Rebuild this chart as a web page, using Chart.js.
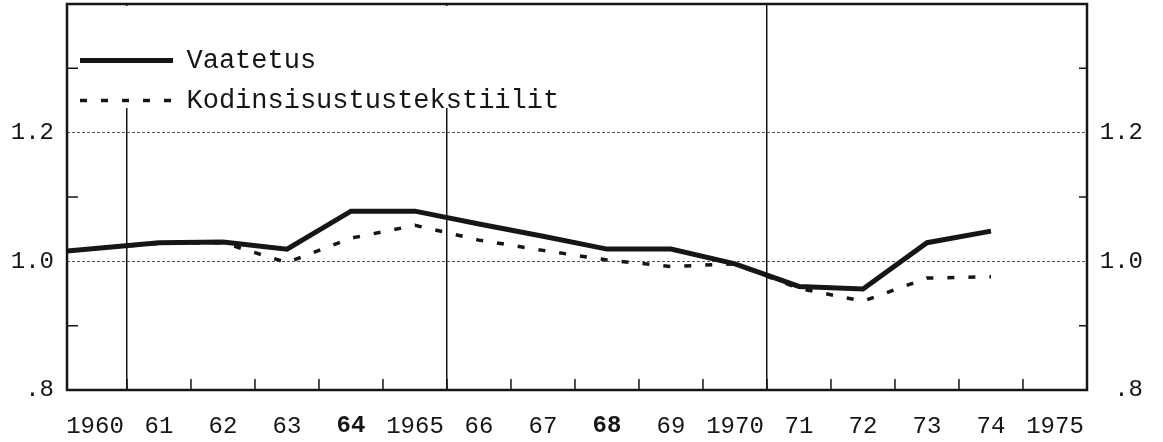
<!DOCTYPE html>
<html>
<head>
<meta charset="utf-8">
<title>Vaatetus / Kodinsisustustekstiilit 1960-1974</title>
<script src="https://cdn.jsdelivr.net/npm/chart.js@4.4.1/dist/chart.umd.min.js"></script>
<style>
  body { margin: 0; background: #fff; }
  canvas { display: block; }
</style>
</head>
<body>
<canvas id="myChart" width="1163" height="442"></canvas>
<script>
// yearly values, drawn in the middle of each year band
var years = [1960, 1961, 1962, 1963, 1964, 1965, 1966, 1967, 1968, 1969, 1970, 1971, 1972, 1973, 1974];
var vaatetus = [1.016, 1.029, 1.030, 1.019, 1.078, 1.078, 1.058, 1.039, 1.019, 1.019, 0.996, 0.961, 0.957, 1.029, 1.047];
var kodin    = [1.016, 1.028, 1.029, 0.998, 1.036, 1.056, 1.033, 1.017, 1.002, 0.992, 0.996, 0.958, 0.938, 0.974, 0.976];

// x axis: one label per year band 1960-1975
var xTickYears  = [1960, 1961, 1962, 1963, 1964, 1965, 1966, 1967, 1968, 1969, 1970, 1971, 1972, 1973, 1974, 1975];
var xTickLabels = ['1960', '61', '62', '63', '64', '1965', '66', '67', '68', '69', '1970', '71', '72', '73', '74', '1975'];
var boldLabels  = ['64', '68'];
var vLineYears  = [1961, 1966, 1971];

// y axis
var yTickValues = [0.8, 1.0, 1.2];
var yTickLabels = ['.8', '1.0', '1.2'];
var yMinorTicks = [0.9, 1.1, 1.3];

var X_MIN = 1960.0625, X_MAX = 1976;
var Y_MIN = 0.8, Y_MAX = 1.4;
var FONT = "'Liberation Mono', 'DejaVu Sans Mono', monospace";
var INK = '#161616';

function points(values) {
    return values.map(function(v, i) {
        // first value starts right at the left frame
        return { x: i === 0 ? X_MIN : years[i] + 0.5, y: v };
    });
}

function setTicks(list) {
    return function(scale) {
        scale.ticks = list.map(function(v) { return { value: v }; });
    };
}

function noPad(width) {
    return function(s) {
        s.width = width;
        s.paddingTop = 0;
        s.paddingBottom = 0;
    };
}

// frame, small inward ticks, white patch under the legend
var framePlugin = {
    id: 'frame',
    beforeDatasetsDraw: function(chart) {
        var boxes = chart.legend && chart.legend.legendHitBoxes;
        if (!boxes || !boxes.length) return;
        var ctx = chart.ctx, a = chart.chartArea;
        var left = a.right, right = 0, bottom = 0;
        boxes.forEach(function(b) {
            left = Math.min(left, b.left);
            right = Math.max(right, b.left + b.width);
            bottom = Math.max(bottom, b.top + b.height);
        });
        ctx.save();
        ctx.fillStyle = '#fff';
        ctx.fillRect(left - 6, a.top + 2, right - left + 16, bottom - a.top - 8);
        ctx.restore();
        chart.legend.draw(chart.chartArea);
    },
    afterDatasetsDraw: function(chart) {
        var ctx = chart.ctx, a = chart.chartArea;
        var xs = chart.scales.x, ys = chart.scales.y;
        ctx.save();
        ctx.strokeStyle = INK;
        ctx.lineWidth = 1.5;
        ctx.beginPath();
        xTickYears.slice(1).forEach(function(yr) {
            var px = xs.getPixelForValue(yr);
            ctx.moveTo(px, a.bottom);
            ctx.lineTo(px, a.bottom - 11);
        });
        yMinorTicks.forEach(function(v) {
            var py = ys.getPixelForValue(v);
            ctx.moveTo(a.left, py);
            ctx.lineTo(a.left + 11, py);
            ctx.moveTo(a.right, py);
            ctx.lineTo(a.right - 8, py);
        });
        ctx.stroke();
        ctx.lineWidth = 2.5;
        ctx.strokeRect(a.left, a.top, a.right - a.left, a.bottom - a.top);
        ctx.restore();
    }
};

var tickFont = { family: FONT, size: 24 };

new Chart(document.getElementById('myChart'), {
    type: 'line',
    data: {
        datasets: [{
            label: 'Vaatetus',
            data: points(vaatetus),
            borderColor: INK,
            backgroundColor: INK,
            borderWidth: 5,
            pointRadius: 0,
            tension: 0,
            fill: false
        }, {
            label: 'Kodinsisustustekstiilit',
            data: points(kodin),
            borderColor: INK,
            backgroundColor: INK,
            borderWidth: 3.5,
            borderDash: [7, 14],
            pointRadius: 0,
            tension: 0,
            fill: false
        }]
    },
    options: {
        responsive: false,
        animation: false,
        events: [],
        layout: { padding: { top: 4, right: 20, left: 0, bottom: 0 } },
        scales: {
            x: {
                type: 'linear',
                position: 'bottom',
                min: X_MIN,
                max: X_MAX,
                afterBuildTicks: setTicks(xTickYears.map(function(y) { return y + 0.5; })),
                afterFit: function(s) { s.height = 52; },
                grid: { display: false },
                border: { display: false },
                ticks: {
                    autoSkip: false,
                    maxRotation: 0,
                    padding: 14,
                    color: INK,
                    callback: function(v, i) { return xTickLabels[i]; },
                    font: function(c) {
                        var bold = c.tick && boldLabels.indexOf(c.tick.label) >= 0;
                        return { family: FONT, size: 24, weight: bold ? 'bold' : 'normal' };
                    }
                }
            },
            xg: {
                type: 'linear',
                position: 'bottom',
                min: X_MIN,
                max: X_MAX,
                afterBuildTicks: setTicks(vLineYears),
                afterFit: function(s) { s.height = 0; },
                ticks: { display: false },
                grid: { color: INK, lineWidth: 1.5, drawTicks: false },
                border: { display: false }
            },
            y: {
                type: 'linear',
                position: 'left',
                min: Y_MIN,
                max: Y_MAX,
                afterBuildTicks: setTicks(yTickValues),
                afterFit: noPad(67),
                grid: {
                    drawTicks: false,
                    lineWidth: 1,
                    color: function(c) { return c.tick && c.tick.value > 0.85 ? '#555' : 'rgba(0,0,0,0)'; }
                },
                border: { display: false, dash: [3, 2] },
                ticks: {
                    padding: 13,
                    color: INK,
                    font: tickFont,
                    callback: function(v, i) { return yTickLabels[i]; }
                }
            },
            y2: {
                type: 'linear',
                position: 'right',
                min: Y_MIN,
                max: Y_MAX,
                afterBuildTicks: setTicks(yTickValues),
                afterFit: noPad(56),
                grid: { display: false },
                border: { display: false },
                ticks: {
                    crossAlign: 'far',
                    color: INK,
                    font: tickFont,
                    callback: function(v, i) { return yTickLabels[i]; }
                }
            }
        },
        plugins: {
            tooltip: { enabled: false },
            legend: {
                position: 'chartArea',
                align: 'start',
                title: { display: true, text: '', padding: { top: 22, bottom: 0 }, font: { size: 10 } },
                labels: {
                    usePointStyle: true,
                    pointStyle: 'line',
                    pointStyleWidth: 93,
                    padding: 13,
                    color: INK,
                    font: { family: FONT, size: 27 },
                    generateLabels: function(chart) {
                        var items = Chart.defaults.plugins.legend.labels.generateLabels(chart);
                        items.forEach(function(it) {
                            var ds = chart.data.datasets[it.datasetIndex];
                            it.lineWidth = ds.borderWidth;
                            it.lineDash = ds.borderDash || [];
                            it.strokeStyle = ds.borderColor;
                        });
                        return items;
                    }
                }
            }
        }
    },
    plugins: [framePlugin]
});
</script>
</body>
</html>
